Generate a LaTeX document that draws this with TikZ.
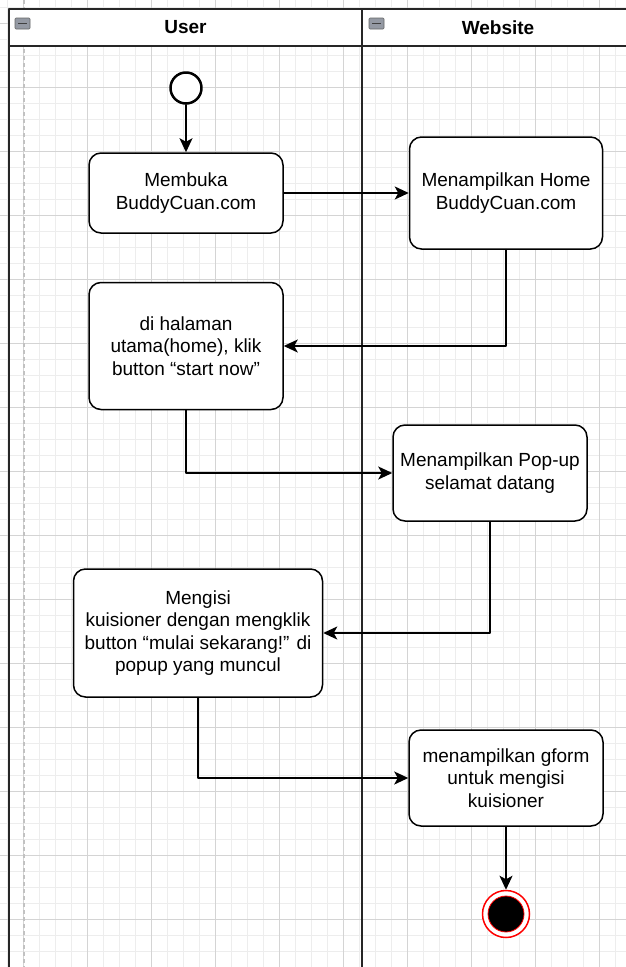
\documentclass[tikz,border=0pt]{standalone}
\usepackage{fontspec}
\setmainfont{Liberation Sans}
\usetikzlibrary{arrows.meta}
\usetikzlibrary{positioning}

\tikzset{
  actbox/.style={draw=black,line width=1.5pt,fill=white,rounded corners=12pt,align=center,
    font=\fontsize{19}{22.5}\selectfont,inner sep=3pt},
  lanehead/.style={font=\fontsize{19}{22}\selectfont\bfseries},
  flow/.style={line width=1.7pt,-{Stealth[length=14pt,width=13pt,inset=3.5pt]}},
}

\begin{document}
\begin{tikzpicture}[line cap=round,line join=round,x=1pt,y=-1pt]
\definecolor{gridmin}{rgb}{0.93,0.93,0.93}
\definecolor{gridmaj}{rgb}{0.83,0.83,0.83}
\definecolor{pagebrk}{rgb}{0.76,0.76,0.76}
\definecolor{iconfill}{rgb}{0.58,0.60,0.64}
\useasboundingbox (0,0) rectangle (626,967);
\clip (0,0) rectangle (626,967);
% background grid
\foreach \k in {0,...,38} \draw[color=gridmin,line width=0.8pt] (7+16*\k,0) -- (7+16*\k,967);
\foreach \k in {0,...,60} \draw[color=gridmin,line width=0.8pt] (0,7+16*\k) -- (626,7+16*\k);
\foreach \k in {0,...,9} \draw[color=gridmaj,line width=0.8pt] (23+64*\k,0) -- (23+64*\k,967);
\foreach \k in {0,...,15} \draw[color=gridmaj,line width=0.8pt] (0,23+64*\k) -- (626,23+64*\k);
\draw[color=pagebrk,line width=2pt,dash pattern=on 4pt off 3pt,line cap=butt] (24,0) -- (24,967);
% pool
\fill[white] (9,9) rectangle (634,46);
\draw[line width=1.6pt,color=black!85] (9,980) -- (9,9) -- (634,9);
\draw[line width=1.6pt,color=black!85] (9,46) -- (634,46);
\draw[line width=1.6pt,color=black!85] (362,9) -- (362,980);
\draw[fill=iconfill,draw=gray!80!black,line width=0.6pt,rounded corners=1pt] (15,18) rectangle (30,29);
\draw[line width=1.6pt,color=black!75,line cap=butt] (18,23.5) -- (27,23.5);
\draw[fill=iconfill,draw=gray!80!black,line width=0.6pt,rounded corners=1pt] (369,18) rectangle (384,29);
\draw[line width=1.6pt,color=black!75,line cap=butt] (372,23.5) -- (381,23.5);
\node[lanehead] (userlane) at (185.5,27.5) {User};
\node[lanehead] (weblane) at (498,27.5) {Website};
% activities
\node[circle,draw=black,line width=2.5pt,fill=white,minimum size=31pt,inner sep=0pt] (start) at (186,88) {};
\node[actbox,minimum width=194pt,minimum height=80pt] (buka) at (186,193) {Membuka\\BuddyCuan.com};
\node[actbox,minimum width=193pt,minimum height=112pt] (home) at (506,193) {Menampilkan Home\\BuddyCuan.com};
\node[actbox,minimum width=194pt,minimum height=127pt] (klik) at (186,346) {di halaman\\utama(home), klik\\button “start now”};
\node[actbox,minimum width=194pt,minimum height=96pt] (popup) at (490,473) {Menampilkan Pop-up\\selamat datang};
\node[actbox,minimum width=249pt,minimum height=128pt] (isi) at (198,633) {Mengisi\\kuisioner dengan mengklik\\button “mulai sekarang!” di\\popup yang muncul};
\node[actbox,minimum width=194pt,minimum height=96pt] (gform) at (506,778) {menampilkan gform\\untuk mengisi\\kuisioner};
\node[circle,draw=red,line width=1.5pt,fill=white,minimum size=47pt,inner sep=0pt] (final) at (506,914) {};
\node[circle,draw=red,line width=0.8pt,fill=black,minimum size=36pt,inner sep=0pt] (finaldot) at (final) {};
% flows
\draw[flow] (start) -- (buka);
\draw[flow] (buka) -- (home);
\draw[flow] (home.south) |- (klik.east);
\draw[flow] (klik.south) |- (popup.west);
\draw[flow] (popup.south) |- (isi.east);
\draw[flow] (isi.south) |- (gform.west);
\draw[flow] (gform.south) -- (final.north);
\end{tikzpicture}
\end{document}
